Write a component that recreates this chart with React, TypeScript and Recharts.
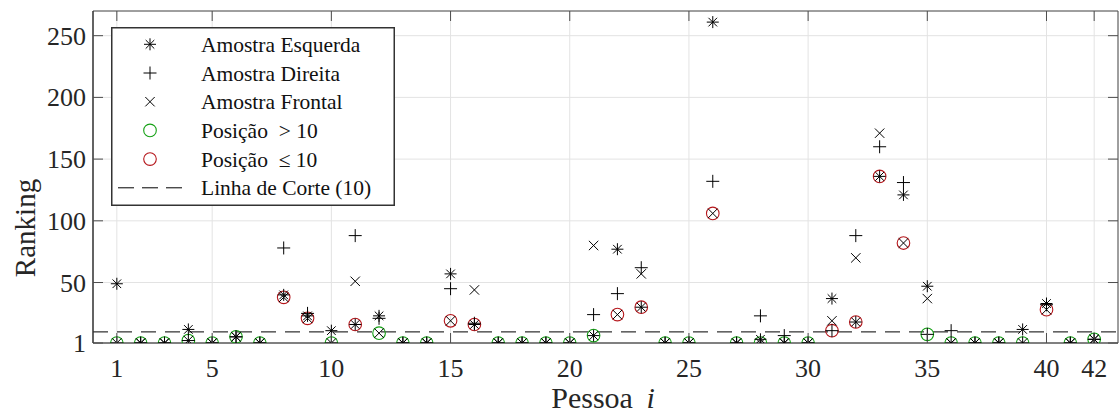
import React from 'react';
import {
  ScatterChart,
  Scatter,
  XAxis,
  YAxis,
  CartesianGrid,
  ReferenceLine,
  Legend,
} from 'recharts';

// ---------------- data ----------------
const persons = [
  1, 2, 3, 4, 5, 6, 7, 8, 9, 10, 11, 12, 13, 14, 15, 16, 17, 18, 19, 20, 21,
  22, 23, 24, 25, 26, 27, 28, 29, 30, 31, 32, 33, 34, 35, 36, 37, 38, 39, 40,
  41, 42,
];
const esquerda = [
  49, 1, 1, 12, 1, 6, 1, 40, 23, 11, 16, 23, 1, 1, 57, 16, 1, 1, 1, 1, 7,
  77, 30, 1, 1, 261, 1, 4, 1, 1, 37, 18, 136, 121, 47, 1, 1, 1, 12, 33,
  1, 4,
];
const direita = [
  1, 1, 1, 3, 1, 6, 1, 78, 25, 1, 88, 21, 1, 1, 45, 17, 1, 1, 1, 1, 24,
  41, 62, 1, 1, 132, 1, 23, 7, 1, 11, 88, 160, 131, 8, 11, 1, 1, 1, 32,
  1, 4,
];
const frontal = [
  1, 1, 1, 3, 1, 6, 1, 38, 21, 1, 51, 9, 1, 1, 19, 44, 1, 1, 1, 1, 80,
  24, 57, 1, 1, 106, 1, 1, 1, 1, 19, 70, 171, 82, 37, 1, 1, 1, 1, 28,
  1, 4,
];
const cutoff = 10;
const xTicks = [1, 5, 10, 15, 20, 25, 30, 35, 40, 42];
const yTicks = [1, 50, 100, 150, 200, 250];
const xDomain = [0, 43];
const yDomain = [1, 270];
const legendLabels = [
  'Amostra Esquerda',
  'Amostra Direita',
  'Amostra Frontal',
  'Posição\u2002> 10',
  'Posição\u2002≤ 10',
  'Linha de Corte (10)',
];

// ---------------- derived tables ----------------
const toPoints = (vals: number[]) => persons.map((p, i) => ({ x: p, y: vals[i] }));
const esqData = toPoints(esquerda);
const dirData = toPoints(direita);
const froData = toPoints(frontal);
const best = persons.map((p, i) => ({
  x: p,
  y: Math.min(esquerda[i], direita[i], frontal[i]),
}));
const greenData = best.filter((d) => d.y <= cutoff);
const redData = best.filter((d) => d.y > cutoff);

// ---------------- styles ----------------
const FONT = '"Liberation Serif", "Times New Roman", serif';
const GREEN = '#14a014';
const RED = '#b5161b';
const TEXT = '#262626';
const AXIS = '#4d4d4d';
const txt = (size: number, extra: any = {}) => ({ fontFamily: FONT, fontSize: size, fill: TEXT, ...extra });

// ---------------- markers ----------------
const AsteriskMark = ({ cx, cy }: { cx: number; cy: number }) => {
  const r = 6;
  const d = 4.3;
  return (
    <g stroke="#000" strokeWidth={1} fill="none">
      <line x1={cx - r} x2={cx + r} y1={cy} y2={cy} />
      <line x1={cx} x2={cx} y1={cy - r} y2={cy + r} />
      <line x1={cx - d} x2={cx + d} y1={cy - d} y2={cy + d} />
      <line x1={cx - d} x2={cx + d} y1={cy + d} y2={cy - d} />
    </g>
  );
};
const PlusMark = ({ cx, cy }: { cx: number; cy: number }) => {
  const r = 6.5;
  return (
    <g stroke="#000" strokeWidth={1} fill="none">
      <line x1={cx - r} x2={cx + r} y1={cy} y2={cy} />
      <line x1={cx} x2={cx} y1={cy - r} y2={cy + r} />
    </g>
  );
};
const CrossMark = ({ cx, cy }: { cx: number; cy: number }) => {
  const d = 4.7;
  return (
    <g stroke="#000" strokeWidth={1} fill="none">
      <line x1={cx - d} x2={cx + d} y1={cy - d} y2={cy + d} />
      <line x1={cx - d} x2={cx + d} y1={cy + d} y2={cy - d} />
    </g>
  );
};
const CircleMark = ({ cx, cy, color }: { cx: number; cy: number; color: string }) => (
  <circle cx={cx} cy={cy} r={6.3} fill="none" stroke={color} strokeWidth={1.1} />
);

// ---------------- ticks ----------------
const BottomTick = (props: any) => {
  const { x, y, payload } = props;
  return (
    <g>
      <line x1={x} x2={x} y1={y} y2={y - 10} stroke={AXIS} strokeWidth={1} />
      <text x={x} y={y + 34} textAnchor="middle" style={txt(26)}>
        {payload.value}
      </text>
    </g>
  );
};
const TopTick = (props: any) => {
  const { x, y } = props;
  return <line x1={x} x2={x} y1={y} y2={y + 10} stroke={AXIS} strokeWidth={1} />;
};
const LeftTick = (props: any) => {
  const { x, y, payload } = props;
  return (
    <g>
      <line x1={x} x2={x + 10} y1={y} y2={y} stroke={AXIS} strokeWidth={1} />
      <text x={x - 7} y={y + 9} textAnchor="end" style={txt(26)}>
        {payload.value}
      </text>
    </g>
  );
};
const RightTick = (props: any) => {
  const { x, y } = props;
  return <line x1={x - 10} x2={x} y1={y} y2={y} stroke={AXIS} strokeWidth={1} />;
};

// ---------------- legend ----------------
const LegendBox = () => {
  const w = 284;
  const h = 179;
  const rowY = (i: number) => 17.3 + i * 28.7;
  const mx = 39;
  return (
    <svg width={w} height={h} style={{ display: 'block' }}>
      <rect x={0.75} y={0.75} width={w - 1.5} height={h - 1.5} fill="#fff" stroke="#333" strokeWidth={1.5} />
      <AsteriskMark cx={mx} cy={rowY(0)} />
      <PlusMark cx={mx} cy={rowY(1)} />
      <CrossMark cx={mx} cy={rowY(2)} />
      <CircleMark cx={mx} cy={rowY(3)} color={GREEN} />
      <CircleMark cx={mx} cy={rowY(4)} color={RED} />
      <line x1={7} x2={71} y1={rowY(5)} y2={rowY(5)} stroke="#000" strokeWidth={1} strokeDasharray="16 8" />
      {legendLabels.map((t, i) => (
        <text key={t} x={90} y={rowY(i) + 7.5} style={txt(21.5, { fill: '#111' })}>
          {t}
        </text>
      ))}
    </svg>
  );
};

const YLabel = () => (
  <text transform="translate(35,228) rotate(-90)" textAnchor="middle" style={txt(29)}>
    Ranking
  </text>
);
const XLabel = () => (
  <text x={603} y={408} textAnchor="middle" style={txt(30)}>
    Pessoa <tspan style={{ fontStyle: 'italic' }}>{'\u2009i'}</tspan>
  </text>
);

export default function App() {
  return (
    <div style={{ position: 'absolute', left: 0, top: 0, width: 1119, height: 414, background: '#fff', fontFamily: FONT }}>
      <ScatterChart
        width={1119}
        height={414}
        margin={{ top: 10, right: 0, bottom: 70, left: 92 }}
        style={{ fontFamily: FONT }}
      >
        <CartesianGrid stroke="#e3e3e3" strokeWidth={1} />
        <XAxis
          type="number"
          dataKey="x"
          domain={xDomain}
          ticks={xTicks}
          interval={0}
          allowDataOverflow
          height={1}
          tickSize={0}
          tickMargin={0}
          tickLine={false}
          tick={<BottomTick />}
          axisLine={{ stroke: '#808080', strokeWidth: 2 }}
          label={{ content: <XLabel /> }}
        />
        <XAxis
          xAxisId="top"
          orientation="top"
          type="number"
          dataKey="x"
          domain={xDomain}
          ticks={xTicks}
          interval={0}
          allowDataOverflow
          height={1}
          tickSize={0}
          tickMargin={0}
          tickLine={false}
          tick={<TopTick />}
          axisLine={{ stroke: AXIS, strokeWidth: 1 }}
        />
        <YAxis
          type="number"
          dataKey="y"
          domain={yDomain}
          ticks={yTicks}
          interval={0}
          allowDataOverflow
          width={1}
          tickSize={0}
          tickMargin={0}
          tickLine={false}
          tick={<LeftTick />}
          axisLine={{ stroke: '#333', strokeWidth: 1.5 }}
          label={{ content: <YLabel /> }}
        />
        <YAxis
          yAxisId="right"
          orientation="right"
          type="number"
          dataKey="y"
          domain={yDomain}
          ticks={yTicks}
          interval={0}
          allowDataOverflow
          width={1}
          tickSize={0}
          tickMargin={0}
          tickLine={false}
          tick={<RightTick />}
          axisLine={{ stroke: AXIS, strokeWidth: 1 }}
        />
        <ReferenceLine y={cutoff} stroke="#000" strokeWidth={1} strokeDasharray="15 9" />
        <Scatter
          name={legendLabels[3]}
          data={greenData}
          isAnimationActive={false}
          shape={(p: any) => <CircleMark cx={p.cx} cy={p.cy} color={GREEN} />}
        />
        <Scatter
          name={legendLabels[4]}
          data={redData}
          isAnimationActive={false}
          shape={(p: any) => <CircleMark cx={p.cx} cy={p.cy} color={RED} />}
        />
        <Scatter
          name={legendLabels[0]}
          data={esqData}
          isAnimationActive={false}
          shape={(p: any) => <AsteriskMark cx={p.cx} cy={p.cy} />}
        />
        <Scatter
          name={legendLabels[1]}
          data={dirData}
          isAnimationActive={false}
          shape={(p: any) => <PlusMark cx={p.cx} cy={p.cy} />}
        />
        <Scatter
          name={legendLabels[2]}
          data={froData}
          isAnimationActive={false}
          shape={(p: any) => <CrossMark cx={p.cx} cy={p.cy} />}
        />
        <Legend
          layout="vertical"
          align="center"
          verticalAlign="middle"
          content={<LegendBox />}
          wrapperStyle={{ position: 'absolute', left: 111, top: 27, width: 284, height: 179, margin: 0, padding: 0 }}
        />
      </ScatterChart>
    </div>
  );
}
